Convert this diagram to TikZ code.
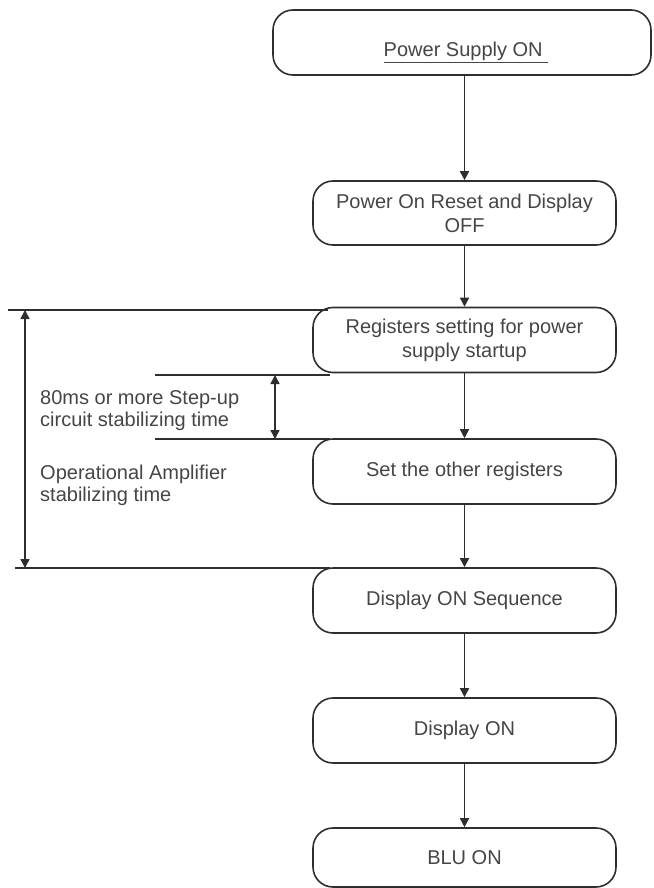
\documentclass[tikz,border=0pt]{standalone}
\usepackage{fontspec}
\setmainfont{Liberation Sans}
\usetikzlibrary{arrows.meta}
\definecolor{ln}{HTML}{2E2E2E}
\definecolor{tx}{HTML}{454545}
\tikzset{
  x=1pt, y=-1pt,
  box/.style={draw=ln, line width=1.6pt, rounded corners=20pt, minimum width=303pt, minimum height=65pt, inner sep=0pt, align=center, text=tx, font=\fontsize{20}{24}\selectfont},
  flow/.style={draw=ln, line width=1.6pt, -{Triangle[width=9pt,length=9pt]}},
  dim/.style={draw=ln, line width=1.6pt, {Triangle[width=9pt,length=9pt]}-{Triangle[width=9pt,length=9pt]}},
  ref/.style={draw=ln, line width=1.6pt},
  lbl/.style={text=tx, font=\fontsize{20}{22}\selectfont, align=left, inner sep=0pt, anchor=north west}
}
\begin{document}
\begin{tikzpicture}
\useasboundingbox (0,0) rectangle (653,888);
\node[box, minimum width=378pt] (b1) at (462,42.5) {};
\node[text=tx, font=\fontsize{20}{24}\selectfont, inner sep=0pt, anchor=base] (t1txt) at (466,57) {\underline{Power Supply ON\ }};
\node[box, minimum height=64pt] (b2) at (464.5,213) {Power On Reset and Display\\OFF};
\node[box] (b3) at (464.5,340) {Registers setting for power\\supply startup};
\node[box] (b4) at (464.5,471.5) {Set the other registers};
\node[box] (b5) at (464.5,600.5) {Display ON Sequence};
\node[box] (b6) at (464.5,730.5) {Display ON};
\node[box, minimum height=59pt] (b7) at (464.5,857.5) {BLU ON};
\draw[flow] (b1.south -| b2.north) -- (b2.north);
\draw[flow] (b2) -- (b3);
\draw[flow] (b3) -- (b4);
\draw[flow] (b4) -- (b5);
\draw[flow] (b5) -- (b6);
\draw[flow] (b6) -- (b7);
\coordinate (t1) at (8,310);
\coordinate (t2) at (328,310);
\coordinate (m1) at (155,375);
\coordinate (m2) at (330,375);
\coordinate (n1) at (155,439);
\coordinate (n2) at (330,439);
\coordinate (u1) at (15,568);
\coordinate (u2) at (330,568);
\draw[ref] (t1) -- (t2);
\draw[ref] (m1) -- (m2);
\draw[ref] (n1) -- (n2);
\draw[ref] (u1) -- (u2);
\coordinate (a1) at (25,310);
\coordinate (a2) at (25,568);
\coordinate (c1) at (275,375);
\coordinate (c2) at (275,439);
\draw[dim] (a1) -- (a2);
\draw[dim] (c1) -- (c2);
\node[lbl] (l1) at (40,390) {80ms or more Step-up\\circuit stabilizing time};
\node[lbl] (l2) at (40,465) {Operational Amplifier\\stabilizing time};
\end{tikzpicture}
\end{document}
